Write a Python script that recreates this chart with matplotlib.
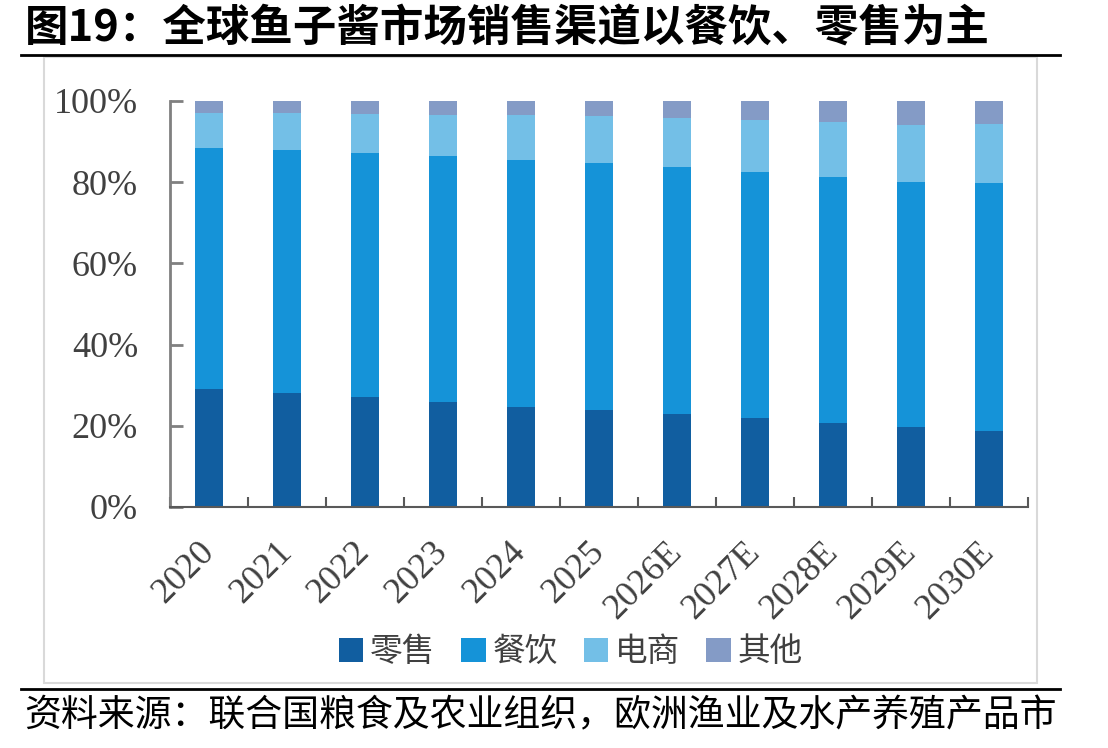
import numpy as np
import matplotlib
matplotlib.use('Agg')
import matplotlib.pyplot as plt
from matplotlib.patches import Rectangle
from matplotlib.lines import Line2D

plt.rcParams['font.family'] = ['Noto Sans CJK SC', 'DejaVu Sans']

years = ['2020', '2021', '2022', '2023', '2024', '2025',
         '2026E', '2027E', '2028E', '2029E', '2030E']
retail = [29.0, 28.0, 27.0, 25.8, 24.6, 23.8, 22.8, 21.9, 20.6, 19.7, 18.7]
dining = [59.4, 60.0, 60.2, 60.7, 60.9, 61.0, 61.0, 60.7, 60.7, 60.4, 61.2]
ecom = [8.6, 9.0, 9.6, 10.1, 11.1, 11.5, 12.0, 12.7, 13.5, 14.0, 14.4]
other = [3.0, 3.0, 3.2, 3.4, 3.4, 3.7, 4.2, 4.7, 5.2, 5.9, 5.7]
names = ['零售', '餐饮', '电商', '其他']
colors = ['#115EA0', '#1593D8', '#73BFE7', '#849BC6']

fig = plt.figure(figsize=(11.08, 7.48), dpi=100)

# outer frame, title rule, source rule
fig.patches.append(Rectangle((0.0397, 0.087), 0.8963, 0.837, transform=fig.transFigure,
                             fill=False, edgecolor='#d9d9d9', linewidth=1.5))
fig.lines.append(Line2D([0.019, 0.957], [0.9265, 0.9265], transform=fig.transFigure,
                        color='black', linewidth=2))
fig.lines.append(Line2D([0.019, 0.957], [0.079, 0.079], transform=fig.transFigure,
                        color='black', linewidth=2))

fig.text(0.022, 0.962, '图19：全球鱼子酱市场销售渠道以餐饮、零售为主',
         fontsize=31.3, fontweight='bold', va='center', ha='left')
fig.text(0.022, 0.043, '资料来源：联合国粮食及农业组织，欧洲渔业及水产养殖产品市',
         fontsize=26.6, va='center', ha='left')

ax = fig.add_axes([0.1534, 0.3222, 0.7744, 0.5428])
x = np.arange(len(years))
series = [retail, dining, ecom, other]
bottom = np.zeros(len(years))
for vals, nm, c in zip(series, names, colors):
    ax.bar(x, vals, width=0.37, bottom=bottom, color=c, label=nm, zorder=2)
    bottom += np.array(vals)

ax.set_xlim(-0.5, len(years) - 0.5)
ax.set_ylim(0, 100)
ax.set_yticks([0, 20, 40, 60, 80, 100])
ax.set_yticklabels(['0%', '20%', '40%', '60%', '80%', '100%'],
                   fontfamily='Liberation Serif', fontsize=26, color='#404040')
ax.set_xticks(x)
ax.set_xticklabels(years, fontfamily='Liberation Serif', fontsize=26, color='#404040',
                   rotation=45, ha='right', va='center', rotation_mode='anchor')
ax.set_xticks(np.arange(len(years) + 1) - 0.5, minor=True)

ax.tick_params(axis='x', which='major', length=0, pad=29)
ax.tick_params(axis='x', which='minor', direction='in', length=7, width=1.5, color='#595959')
ax.tick_params(axis='y', direction='in', length=9, width=2, color='#808080', pad=23)

for s in ['top', 'right']:
    ax.spines[s].set_visible(False)
ax.spines['left'].set_color('#808080')
ax.spines['left'].set_linewidth(2)
ax.spines['bottom'].set_color('#595959')
ax.spines['bottom'].set_linewidth(1.5)

leg = fig.legend(loc='center', bbox_to_anchor=(0.515, 0.128), ncol=4, frameon=False,
                 fontsize=23.5, handlelength=0.75, handleheight=0.75, handletextpad=0.2,
                 columnspacing=0.8)
for t in leg.get_texts():
    t.set_color('#404040')

fig.savefig('out.png', dpi=100)
